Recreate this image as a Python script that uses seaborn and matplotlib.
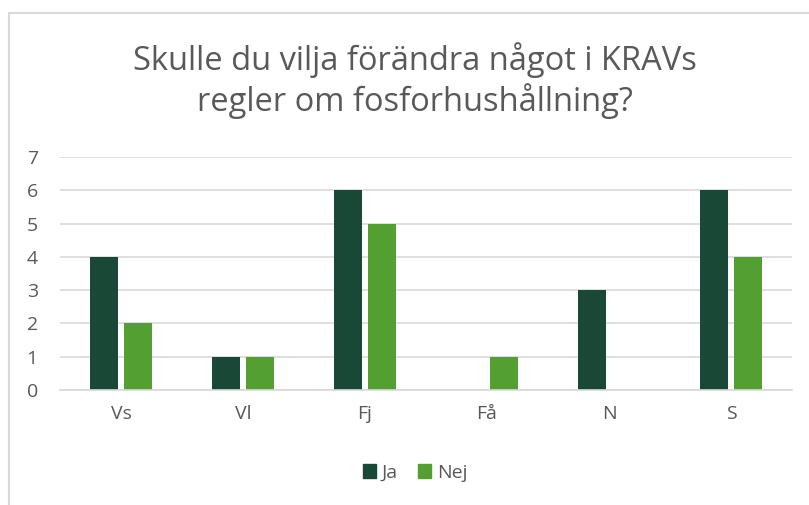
import matplotlib
matplotlib.use("Agg")
import matplotlib.pyplot as plt
import seaborn as sns
import pandas as pd
from matplotlib.patches import Rectangle

categories = ["Vs", "Vl", "Fj", "Få", "N", "S"]
ja = [4, 1, 6, 0, 3, 6]
nej = [2, 1, 5, 1, 0, 4]
series = ["Ja", "Nej"]
title = "Skulle du vilja förändra något i KRAVs\nregler om fosforhushållning?"

df = pd.DataFrame({
    "cat": categories * 2,
    "val": ja + nej,
    "serie": ["Ja"] * len(categories) + ["Nej"] * len(categories),
})

sns.set_theme(style="white")
plt.rcParams["font.family"] = ["Open Sans", "DejaVu Sans"]

W, H = 809, 505
fig = plt.figure(figsize=(W / 100, H / 100), dpi=100)
ax = fig.add_axes([60 / W, (H - 390) / H, (792 - 60) / W, (390 - 157) / H])

palette = {"Ja": "#1a4836", "Nej": "#549f32"}
sns.barplot(data=df, x="cat", y="val", hue="serie", order=categories,
            hue_order=series, palette=palette, width=0.56, gap=0.2,
            saturation=1, ax=ax, legend=False, linewidth=0)

ax.set_ylim(0, 7)
ax.set_yticks(range(0, 8))
ax.set_xlim(-0.5, len(categories) - 0.5)
ax.yaxis.grid(True, color="#d9d9d9", linewidth=1.2)
ax.set_axisbelow(True)
for s in ["top", "right", "left"]:
    ax.spines[s].set_visible(False)
ax.spines["bottom"].set_color("#d9d9d9")
ax.spines["bottom"].set_linewidth(1.2)
ax.set_xlabel("")
ax.set_ylabel("")
ax.tick_params(axis="both", colors="#595959", labelsize=14, length=0)
ax.tick_params(axis="y", pad=24)
ax.tick_params(axis="x", pad=11)
for lbl in ax.get_yticklabels():
    lbl.set_horizontalalignment("left")

fig.text(415 / W, 1 - 81 / H, title, ha="center", va="center",
         fontsize=23.5, color="#595959", linespacing=1.18)

handles = [Rectangle((0, 0), 1, 1, color=palette[s]) for s in series]
fig.legend(handles, series, loc="center", bbox_to_anchor=(415 / W, 1 - 473 / H),
           ncol=2, frameon=False, fontsize=14, labelcolor="#595959",
           handlelength=0.7, handleheight=0.7, handletextpad=0.3, columnspacing=1.0)

fig.patches.append(Rectangle((8.5 / W, -0.1), 1.0, 1 - 12.5 / H + 0.1,
                             transform=fig.transFigure, fill=False,
                             edgecolor="#d9d9d9", linewidth=1.5))

fig.savefig("out.png", dpi=100)
